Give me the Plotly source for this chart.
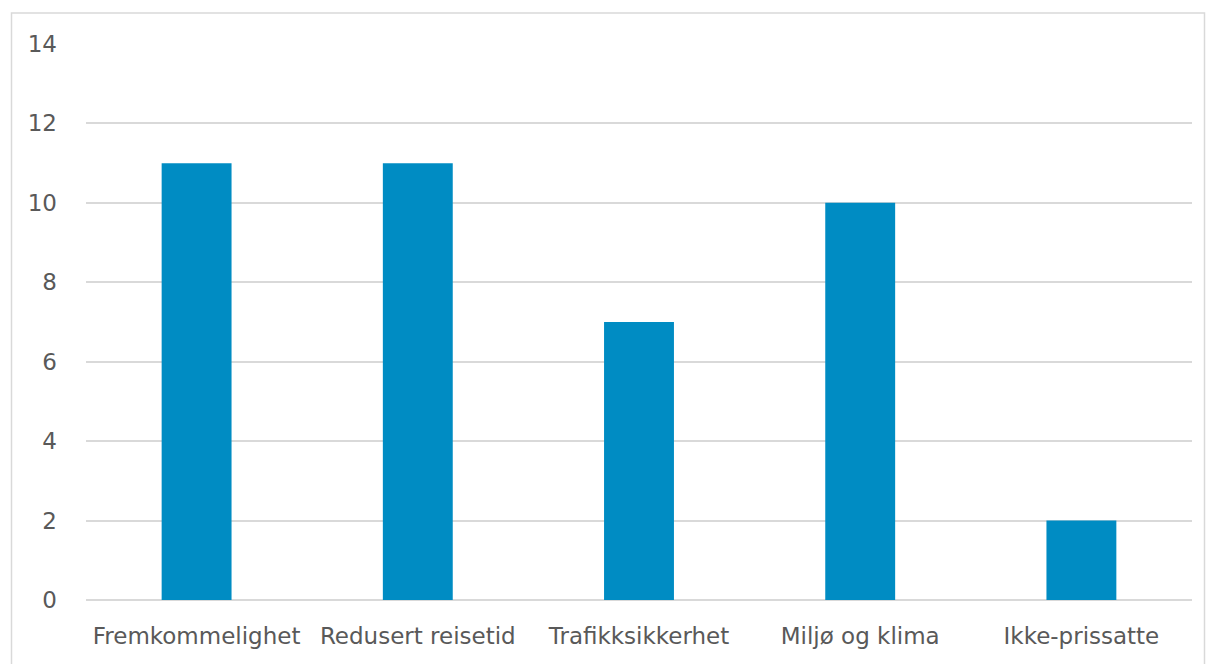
import plotly.graph_objects as go

categories = ["Fremkommelighet", "Redusert reisetid", "Trafikksikkerhet", "Miljø og klima", "Ikke-prissatte"]
values = [11, 11, 7, 10, 2]
tick_vals = [0, 2, 4, 6, 8, 10, 12, 14]

W, H = 1206, 664
L, R, T, B = 86, 14, 44, 64
pw, ph = W - L - R, H - T - B

def px_x(x):
    return (x - L) / pw

def px_y(y):
    return (H - B - y) / ph

label_font = dict(family="DejaVu Sans", size=23, color="#595959")

fig = go.Figure(go.Bar(
    x=categories,
    y=values,
    marker=dict(color="#008cc3", line=dict(width=0)),
    width=0.316,
))

fig.update_layout(
    width=W, height=H,
    margin=dict(l=L, r=R, t=T, b=B),
    paper_bgcolor="white",
    plot_bgcolor="white",
    showlegend=False,
    font=label_font,
    xaxis=dict(
        showgrid=False, showline=False, ticks="",
        tickfont=label_font,
        ticklabelstandoff=20,
    ),
    yaxis=dict(
        range=[0, 14],
        tickvals=tick_vals,
        showgrid=True, gridcolor="#d9d9d9", gridwidth=1.5,
        zeroline=True, zerolinecolor="#d9d9d9", zerolinewidth=1.5,
        showline=False, ticks="",
        tickfont=label_font,
        ticklabelstandoff=28,
    ),
    shapes=[dict(
        type="rect", xref="paper", yref="paper",
        x0=px_x(11.5), x1=px_x(1204.5), y0=px_y(700), y1=px_y(13),
        line=dict(color="#d9d9d9", width=1.5), fillcolor="rgba(0,0,0,0)",
        layer="below",
    )],
)

fig.write_html("out.html")
